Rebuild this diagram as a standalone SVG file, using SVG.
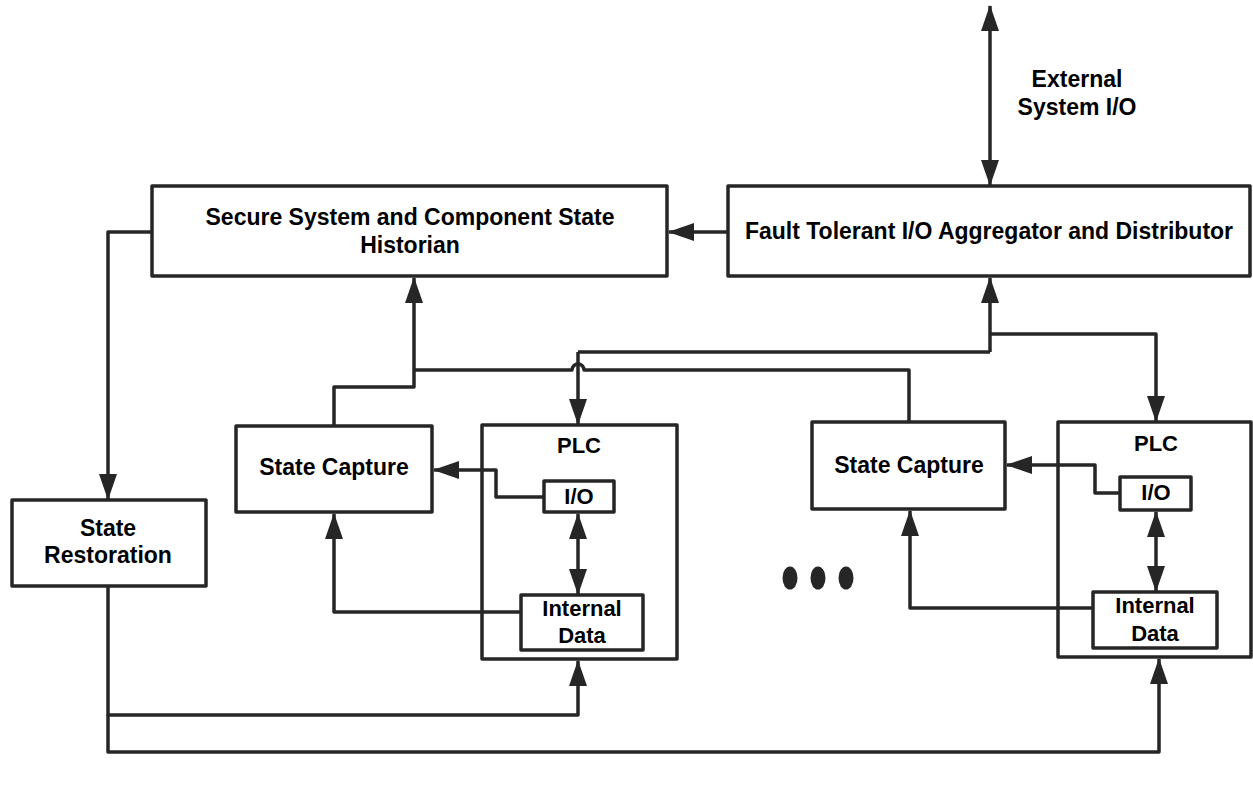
<svg xmlns="http://www.w3.org/2000/svg" width="1253" height="787" viewBox="0 0 1253 787">
<style>
.box{fill:#fff;stroke:#262626;stroke-width:3.5;stroke-linejoin:round}
.ln{fill:none;stroke:#262626;stroke-width:3.5;stroke-linejoin:round}
.arr{marker-end:url(#ah)}
.dbl{marker-start:url(#ah);marker-end:url(#ah)}
text{font-family:"Liberation Sans",Arial,sans-serif;font-weight:bold;font-size:23px;fill:#000;text-anchor:middle}
.sm{font-size:22px}
</style>
<defs>
<marker id="ah" markerUnits="userSpaceOnUse" markerWidth="26" markerHeight="18" refX="25" refY="9" orient="auto-start-reverse" viewBox="0 0 26 18">
<path d="M0,0 L26,9 L0,18 z" fill="#262626"/>
</marker>
</defs>
<rect width="1253" height="787" fill="#fff"/>
<g id="secure-historian">
<rect class="box" x="152" y="186" width="515" height="90"/>
<text x="410" y="225">Secure System and Component State</text>
<text x="410" y="253">Historian</text>
</g>
<g id="fault-tolerant">
<rect class="box" x="728" y="186" width="522" height="90"/>
<text x="989" y="239">Fault Tolerant I/O Aggregator and Distributor</text>
</g>
<g id="external-label">
<text x="1077" y="87">External</text>
<text x="1077" y="115">System I/O</text>
</g>
<g id="state-restoration">
<rect class="box" x="12" y="500" width="194" height="86"/>
<text x="108" y="536">State</text>
<text x="108" y="563">Restoration</text>
</g>
<g id="state-capture-1">
<rect class="box" x="236" y="426" width="196" height="86"/>
<text x="334" y="475">State Capture</text>
</g>
<g id="plc-1">
<rect class="box" x="482" y="425" width="195" height="234"/>
<text class="sm" x="579" y="453">PLC</text>
</g>
<g id="io-1">
<rect class="box" x="544" y="481" width="70" height="31"/>
<text class="sm" x="579" y="504">I/O</text>
</g>
<g id="internal-data-1">
<rect class="box" x="521" y="595" width="122" height="55"/>
<text class="sm" x="582" y="616">Internal</text>
<text class="sm" x="582" y="643">Data</text>
</g>
<g id="state-capture-2">
<rect class="box" x="812" y="422" width="193" height="87"/>
<text x="909" y="473">State Capture</text>
</g>
<g id="plc-2">
<rect class="box" x="1058" y="422" width="193" height="235"/>
<text class="sm" x="1156" y="451">PLC</text>
</g>
<g id="io-2">
<rect class="box" x="1120" y="477" width="71" height="33"/>
<text class="sm" x="1156" y="500">I/O</text>
</g>
<g id="internal-data-2">
<rect class="box" x="1093" y="592" width="124" height="56"/>
<text class="sm" x="1155" y="613">Internal</text>
<text class="sm" x="1155" y="641">Data</text>
</g>
<g id="ellipsis">
<ellipse cx="790" cy="578" rx="7.5" ry="11.5" fill="#262626"/>
<ellipse cx="818" cy="578" rx="7.5" ry="11.5" fill="#262626"/>
<ellipse cx="846" cy="578" rx="7.5" ry="11.5" fill="#262626"/>
</g>
<g id="connectors">
<path class="ln dbl" d="M990,6 L990,185"/>
<path class="ln arr" d="M728,232 L669,232"/>
<path class="ln arr" d="M152,232 L108,232 L108,499"/>
<path class="ln arr" d="M990,352 L990,278"/>
<path class="ln" d="M578,352 L990,352"/>
<path class="ln arr" d="M990,334 L1156,334 L1156,421"/>
<path class="ln arr" d="M578,352 L578,424"/>
<path class="ln arr" d="M334,426 L334,387 L414,387 L414,278"/>
<path class="ln" d="M414,370 L572,370 A6,6 0 0 1 584,370 L909,370 L909,422"/>
<path class="ln arr" d="M544,497 L496,497 L496,470 L434,470"/>
<path class="ln dbl" d="M578,514 L578,594"/>
<path class="ln arr" d="M521,612 L334,612 L334,514"/>
<path class="ln arr" d="M1120,493 L1095,493 L1095,465 L1007,465"/>
<path class="ln dbl" d="M1156,512 L1156,591"/>
<path class="ln arr" d="M1093,608 L910,608 L910,511"/>
<path class="ln arr" d="M108,586 L108,715 L578,715 L578,661"/>
<path class="ln arr" d="M108,715 L108,752 L1159,752 L1159,659"/>
</g>
</svg>
